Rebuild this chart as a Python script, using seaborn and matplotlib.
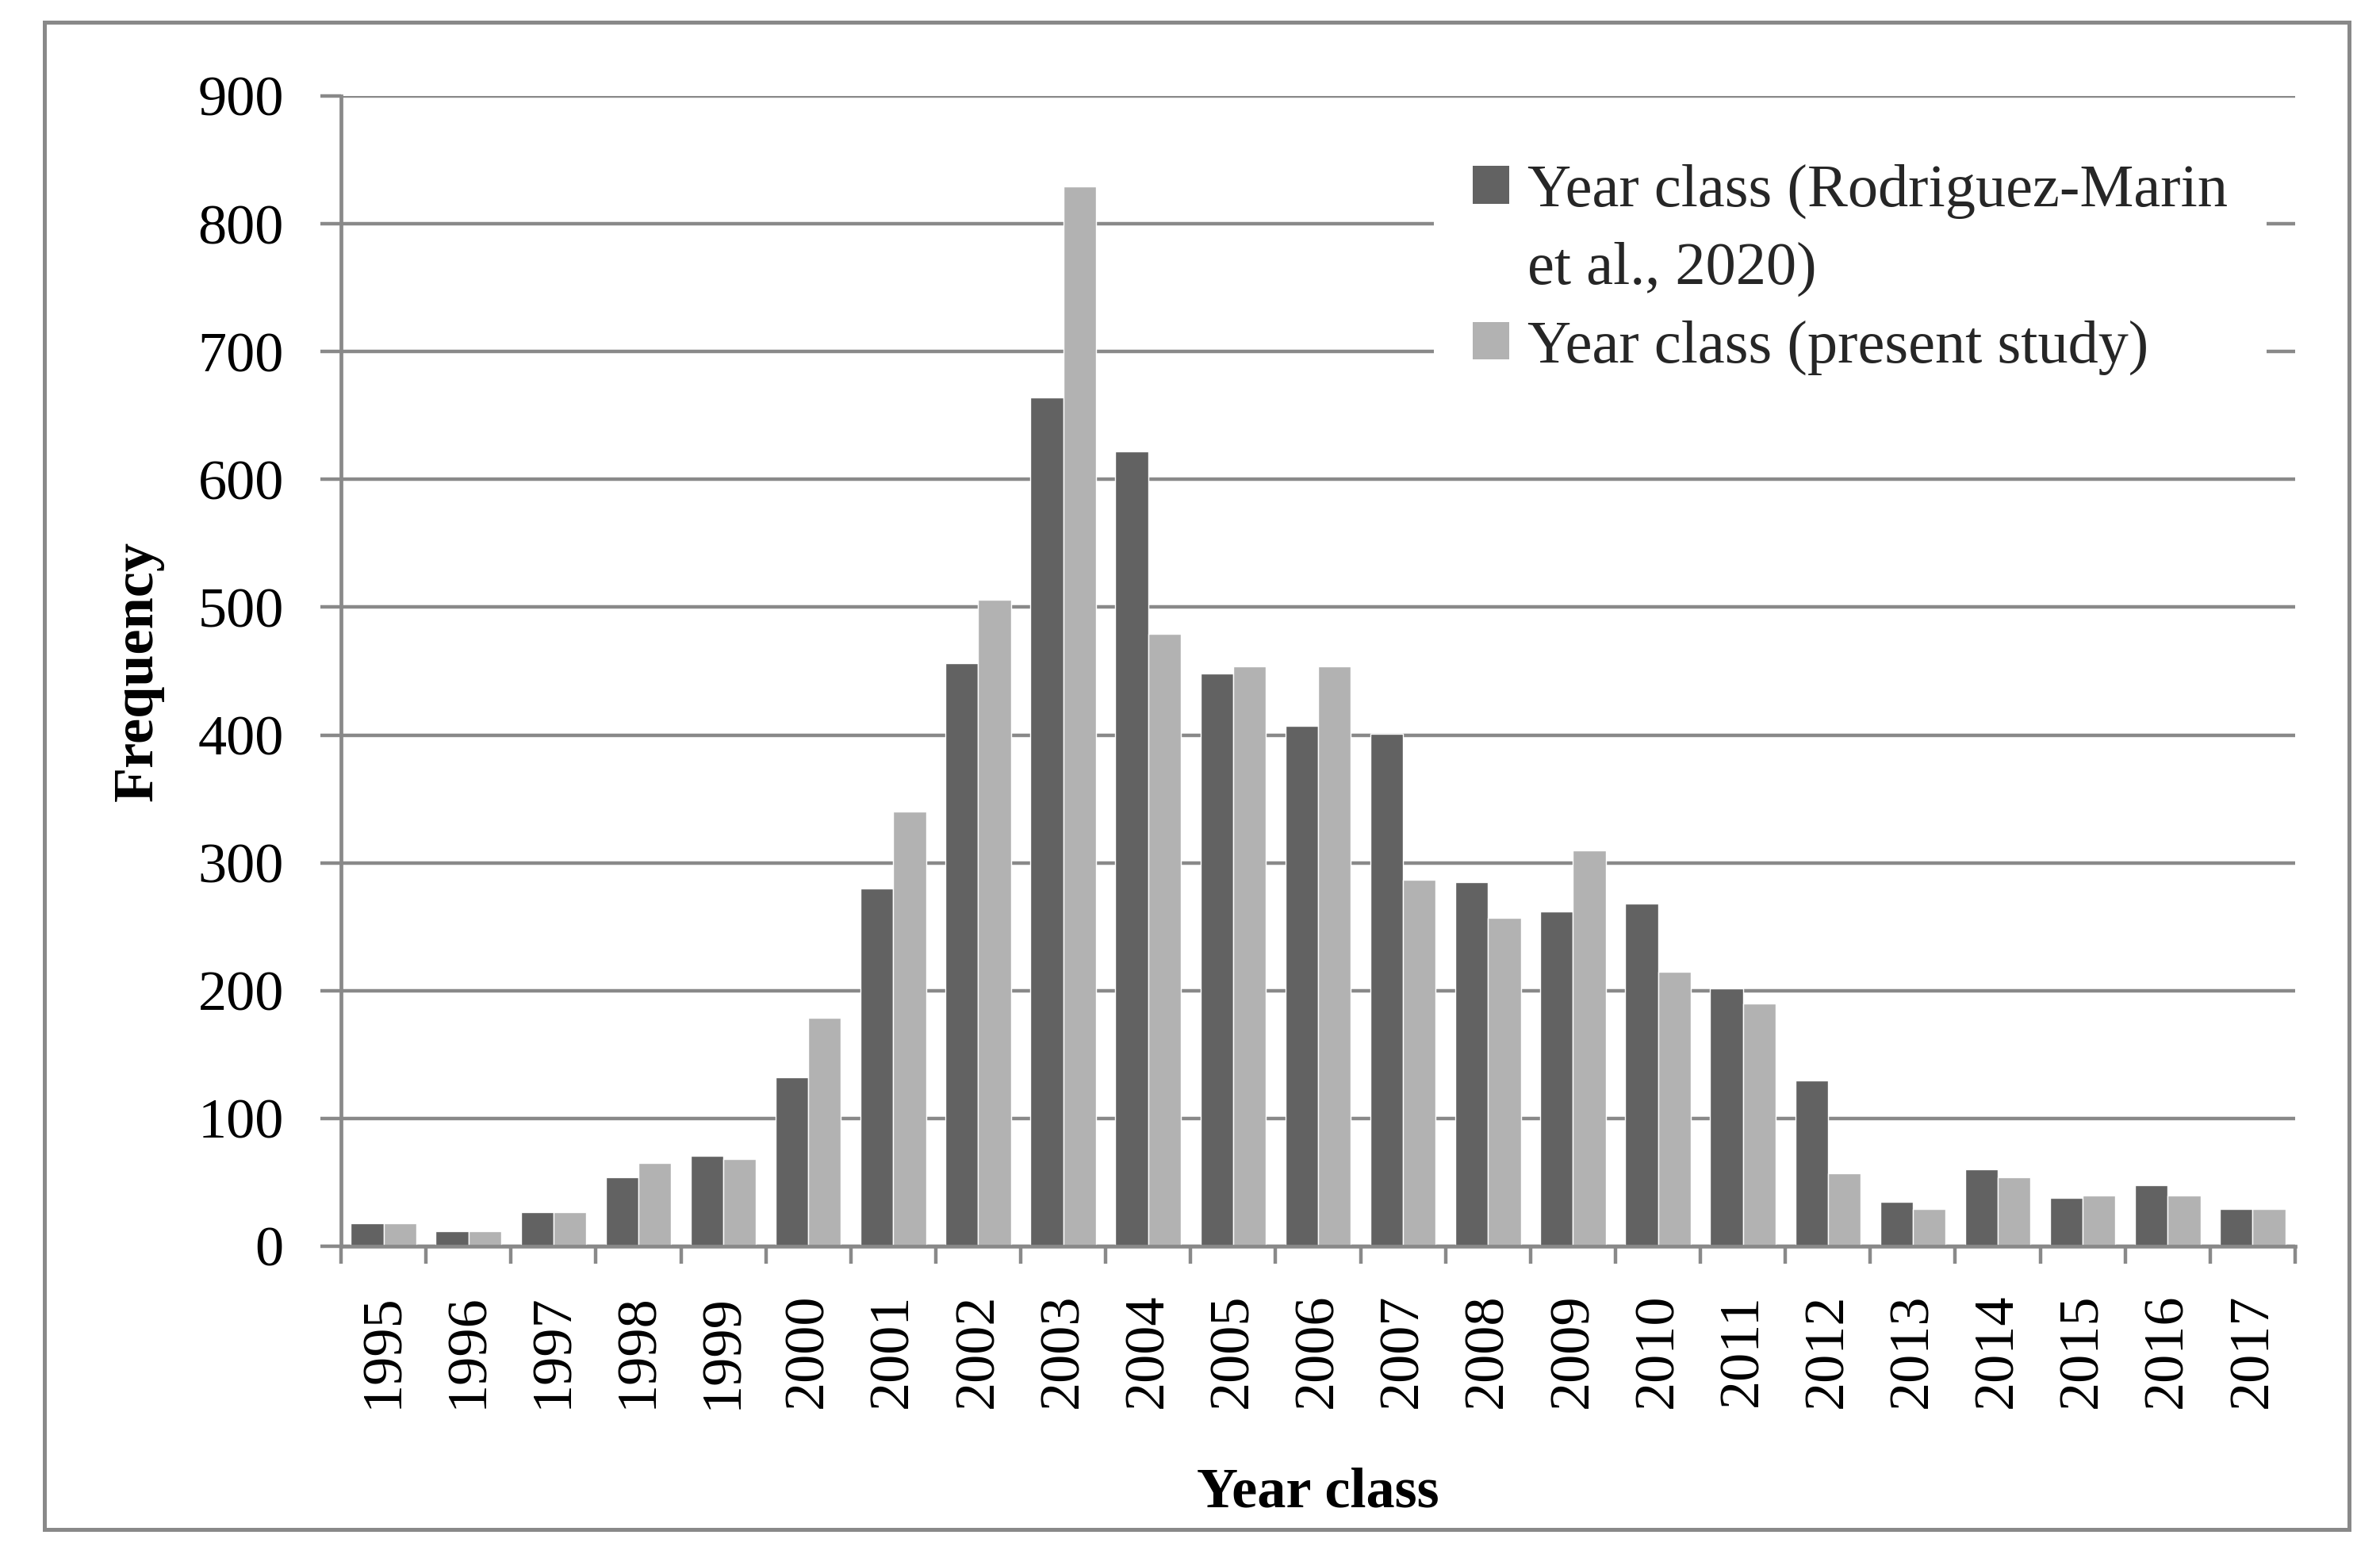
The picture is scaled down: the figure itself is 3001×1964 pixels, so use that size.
import matplotlib
matplotlib.use("Agg")
import matplotlib.pyplot as plt
from matplotlib.patches import Patch, Rectangle
import numpy as np
import pandas as pd
import seaborn as sns

years = ["1995", "1996", "1997", "1998", "1999", "2000", "2001", "2002",
         "2003", "2004", "2005", "2006", "2007", "2008", "2009", "2010",
         "2011", "2012", "2013", "2014", "2015", "2016", "2017"]
rodriguez_marin = [18, 12, 27, 54, 71, 132, 280, 456, 664, 622, 448, 407,
                   401, 285, 262, 268, 202, 130, 35, 60, 38, 48, 29]
present_study = [18, 12, 27, 65, 68, 179, 340, 506, 829, 479, 454, 454,
                 287, 257, 310, 215, 190, 57, 29, 54, 40, 40, 29]
series_names = ["Year class (Rodriguez-Marin et al., 2020)",
                "Year class (present study)"]
legend_labels = ["Year class (Rodriguez-Marin", "et al., 2020)",
                 "Year class (present study)"]
y_ticks = [0, 100, 200, 300, 400, 500, 600, 700, 800, 900]

dark = "#626262"
light = "#b2b2b2"
gray = "#898989"

df = pd.DataFrame({
    "year": years * 2,
    "frequency": rodriguez_marin + present_study,
    "series": [series_names[0]] * len(years) + [series_names[1]] * len(years),
})

sns.set_theme(style="white")
plt.rcParams["font.family"] = ["Liberation Serif", "DejaVu Serif"]

W, H = 3001, 1964
fig = plt.figure(figsize=(W / 100, H / 100), dpi=100)
ax = fig.add_axes([430 / W, 1 - 1571 / H, (2894 - 430) / W, (1571 - 121) / H])

sns.barplot(data=df, x="year", y="frequency", hue="series",
            palette=[dark, light], width=0.77, saturation=1, gap=0,
            errorbar=None, legend=False, ax=ax)

ax.set_ylim(0, 900)
ax.set_yticks(y_ticks)
ax.set_xlim(-0.5, len(years) - 0.5)

# grid + spines
ax.yaxis.grid(True, color=gray, linewidth=3.2)
ax.xaxis.grid(False)
ax.set_axisbelow(True)
for side in ["top", "right"]:
    ax.spines[side].set_visible(False)
for side in ["left", "bottom"]:
    ax.spines[side].set_color(gray)
    ax.spines[side].set_linewidth(3.4)

ax.tick_params(axis="y", left=True, length=19, width=3.2, color=gray,
               direction="out", pad=33, labelsize=52, labelcolor="black")
ax.tick_params(axis="x", which="major", bottom=True, length=0, pad=43,
               labelsize=52, labelrotation=90, labelcolor="black")
ax.set_xticks(np.arange(-0.5, len(years), 1), minor=True)
ax.tick_params(axis="x", which="minor", bottom=True, length=16, width=3.2,
               color=gray, direction="out")

ax.set_xlabel("Year class", fontsize=52, fontweight="bold", color="black")
ax.set_ylabel("Frequency", fontsize=52, fontweight="bold", color="black")
ax.xaxis.set_label_coords(0.5, (1571 - 1850) / 1450)
ax.yaxis.set_label_coords((207 - 430) / 2464, 0.5)

handles = [Patch(facecolor=dark, edgecolor="none"),
           Patch(facecolor="none", edgecolor="none"),
           Patch(facecolor=light, edgecolor="none")]
leg = ax.legend(handles, legend_labels, loc="upper left",
                bbox_to_anchor=(1808 / W, 1 - 158 / H),
                bbox_transform=fig.transFigure, frameon=True, framealpha=1,
                facecolor="white", edgecolor="none", fancybox=False,
                fontsize=55, handlelength=0.6, handleheight=0.58,
                handletextpad=0.3, labelspacing=0.38, borderpad=0.64,
                borderaxespad=0)

# outer frame
fig.patches.append(Rectangle((56 / W, 1 - 1928 / H), (2962 - 56) / W,
                             (1928 - 28) / H, transform=fig.transFigure,
                             fill=False, edgecolor=gray, linewidth=3.6))

fig.savefig("out.png", dpi=100)
